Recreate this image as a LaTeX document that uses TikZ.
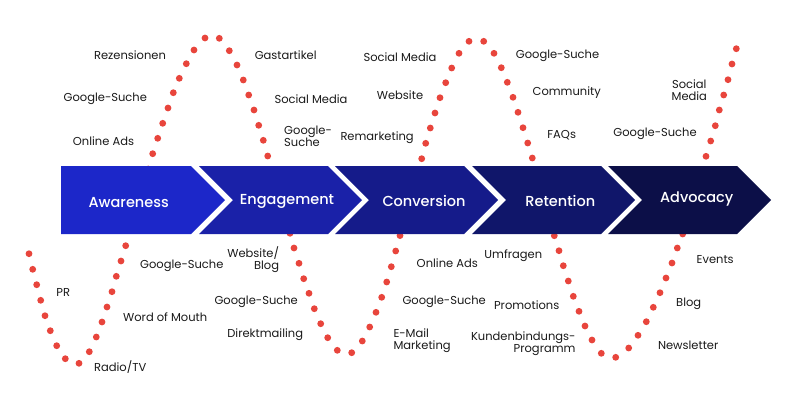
\documentclass[tikz,border=0pt]{standalone}
\usepackage{fontspec}
\setmainfont{Poppins}
\newfontfamily\pmed{Poppins}[UprightFont={* Medium}]
\definecolor{dotred}{HTML}{E8453C}
\definecolor{cA}{HTML}{1C27C9}
\definecolor{cB}{HTML}{1A21A8}
\definecolor{cC}{HTML}{151B8A}
\definecolor{cD}{HTML}{10166A}
\definecolor{cE}{HTML}{0C0F48}
\definecolor{txt}{HTML}{1A1A1A}
\tikzset{
  lbl/.style={font=\fontsize{11.5}{12}\selectfont, text=txt, inner sep=0pt},
  stagelbl/.style={font=\pmed\fontsize{14.5}{16}\selectfont, text=white, inner sep=0pt},
  wavedot/.style={fill=dotred, draw=none},
}
\begin{document}
\begin{tikzpicture}[x=1pt,y=-1pt]
\useasboundingbox (0,0) rectangle (800,400);
\fill[white] (0,0) rectangle (800,400);
% dotted wave
\foreach \px/\py in {
29/253.7,32.7/269.3,36.7/284.7,40.7/300.3,45/315.7,50.3/330.7,56.7/345.7,65.3/358.7,79/363.3,89.3/351.7,96.3/337,102/322,107/307,112/291.7,116.3/276.3,121/261,125.7/245.7,
130.2/230.4,134.7/215.1,139.2/199.7,143.7/184.4,148.2/169,
152.7/153.7,157.7/138.3,162.7/123.3,168/108,173.3/92.7,179.3/78.3,186.3/63.7,194/50,205/38,219.3/38.3,229.3/50.7,237/65,243.3/80,248.7/95,254/110,258.7/125.3,263.3/140.3,267.7/156,
272.2/171.5,276.6/187,281.1/202.4,285.5/217.9,
290/233.3,294/248,299/263.3,303.7/278.7,309/293.3,314.3/308.7,320.7/323.7,327.7/337.7,337.3/350.3,351.7/352.7,362.3/341,369.7/327,376/312.3,381.7/297.3,386.7/282,391.3/266.7,395.7/251,
400/235.6,404.4/220.2,408.7/204.8,413/189.4,417.4/174.1,
421.7/158.7,425.7/143.3,430.3/128,435/113,440/97.7,445.7/82.7,451.7/68,459/53.3,469/41.3,483.7/41.3,494/53.3,501.3/67.7,507.3/82.3,513/97.3,518/112.3,523/127.7,527.7/143,532.3/158,
536.7/173.5,541.1/189.1,545.5/204.6,549.9/220.2,
554.3/235.7,559/250.7,563.3/265.7,568.3/281,573.3/296.3,579/311.3,585/326,592/340,601.3/353.3,615.7/357.3,628.7/348,638/335.3,646.3/321.7,653.3/307.3,660/292.7,666/278,672/263,677.3/248,682.7/234,
687.4/218.5,692/203,696.7/187.4,701.3/171.9,
706/156.3,710.7/141,715.3/125.7,719.3/110,723.7/95,728/79.7,732/64,736.3/48.7}
  \fill[wavedot] (\px,\py) circle (3.4);
% stage arrows
\fill[cA] (61,166) -- (191,166) -- (225,200) -- (191,234) -- (61,234) -- cycle;
\fill[cB] (199,166) -- (328,166) -- (362,200) -- (328,234) -- (199,234) -- (233,200) -- cycle;
\fill[cC] (335,166) -- (464,166) -- (498,200) -- (464,234) -- (335,234) -- (369,200) -- cycle;
\fill[cD] (472,166) -- (601,166) -- (635,200) -- (601,234) -- (472,234) -- (506,200) -- cycle;
\fill[cE] (608,166) -- (737,166) -- (771,200) -- (737,234) -- (608,234) -- (642,200) -- cycle;
\node[stagelbl] (s1) at (128.7,203) {Awareness};
\node[stagelbl] (s2) at (287,201.5) {Engagement};
\node[stagelbl] (s3) at (424,201) {Conversion};
\node[stagelbl] (s4) at (560.3,201) {Retention};
\node[stagelbl] (s5) at (696.7,199.5) {Advocacy};
% top labels
\node[lbl] (t1) at (130,54.7) {Rezensionen};
\node[lbl] (t2) at (105.3,98.7) {Google-Suche};
\node[lbl] (t3) at (103.5,140.7) {Online Ads};
\node[lbl] (t4) at (285.7,54.7) {Gastartikel};
\node[lbl] (t5) at (311,99) {Social Media};
\node[lbl,anchor=west,align=left] (t6) at (284,136.7) {Google-\\Suche};
\node[lbl,anchor=west] (t7) at (340.3,138) {Remarketing};
\node[lbl] (t8) at (400,57) {Social Media};
\node[lbl] (t9) at (400,95) {Website};
\node[lbl] (t10) at (557.5,55.7) {Google-Suche};
\node[lbl] (t11) at (566.7,92.3) {Community};
\node[lbl] (t12) at (561.7,135) {FAQs};
\node[lbl,align=center] (t13) at (689.3,90) {Social\\Media};
\node[lbl] (t14) at (655,133.3) {Google-Suche};
% bottom labels
\node[lbl] (b1) at (63.3,292.7) {PR};
\node[lbl] (b2) at (120.2,366.7) {Radio/TV};
\node[lbl] (b3) at (181.8,266) {Google-Suche};
\node[lbl] (b4) at (165.2,316.7) {Word of Mouth};
\node[lbl,anchor=east,align=right] (b5) at (279.3,259.7) {Website/\\Blog};
\node[lbl] (b6) at (256.2,301.7) {Google-Suche};
\node[lbl] (b7) at (265.2,335) {Direktmailing};
\node[lbl,anchor=west,align=left] (b8) at (393.3,341) {E-Mail\\Marketing};
\node[lbl] (b9) at (447.3,263) {Online Ads};
\node[lbl] (b10) at (444.2,301.3) {Google-Suche};
\node[lbl] (b11) at (513.3,255.7) {Umfragen};
\node[lbl] (b12) at (526.7,304.7) {Promotions};
\node[lbl,anchor=east,align=right] (b13) at (575.7,343.8) {Kundenbindungs-\\Programm};
\node[lbl] (b14) at (715.2,260) {Events};
\node[lbl] (b15) at (688.7,303.3) {Blog};
\node[lbl] (b16) at (688.2,345.3) {Newsletter};
\end{tikzpicture}
\end{document}
